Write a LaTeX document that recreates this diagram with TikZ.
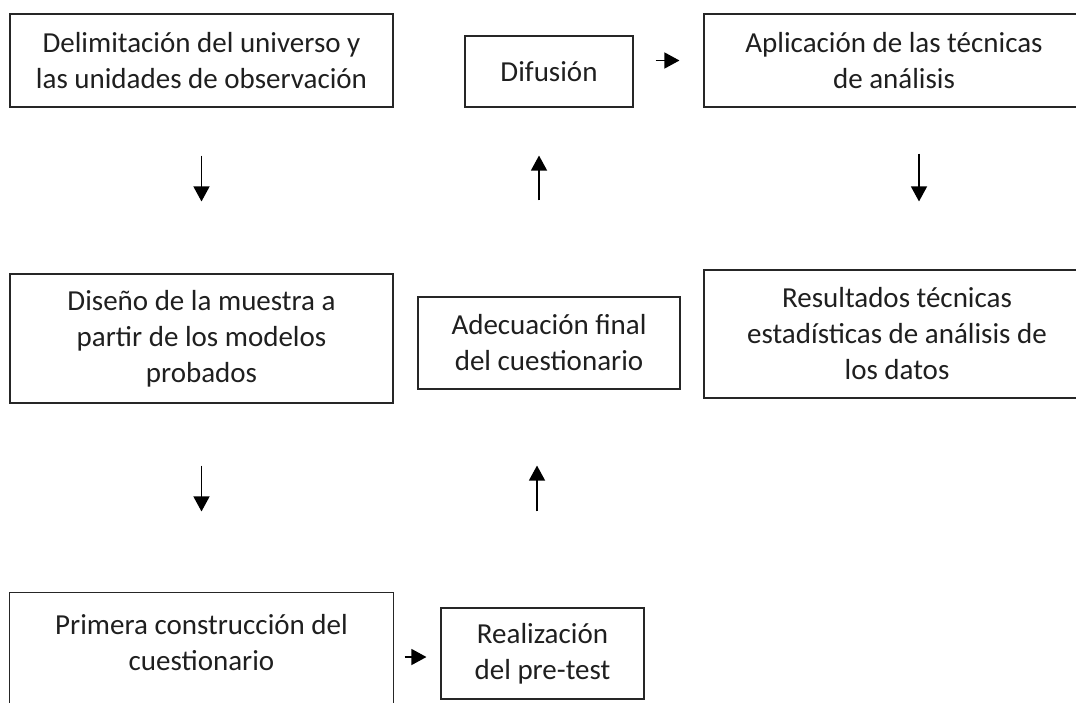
\documentclass[tikz,border=0pt]{standalone}
\usepackage{fontspec}
\setmainfont{Carlito}
\usetikzlibrary{arrows.meta}
\begin{document}
\begin{tikzpicture}[x=1pt,y=-1pt,
  boxline/.style={draw=black!85, line width=1.1pt},
  box/.style={boxline, inner sep=0pt, align=center,
    font=\fontsize{29}{36}\selectfont, text=black!88},
  arr/.style={line width=1.3pt, -{Triangle[width=16pt,length=15pt]}}]
\useasboundingbox (0,0) rectangle (1076,702);
\clip (0,0) rectangle (1076,702);
\node[box, minimum width=383pt, minimum height=93pt] (delim) at (201.5,60.5)
  {Delimitación del universo y\\las unidades de observación};
\node[box, minimum width=168pt, minimum height=71pt] (difu) at (549,71.5)
  {Difusión};
\node[box, minimum width=380pt, minimum height=93pt] (apl) at (894,60.5)
  {Aplicación de las técnicas\\de análisis};
\node[box, minimum width=383pt, minimum height=129pt] (dise) at (201.5,338.5)
  {Diseño de la muestra a\\partir de los modelos\\probados};
\node[box, minimum width=262pt, minimum height=92pt] (adec) at (549,343)
  {Adecuación final\\del cuestionario};
\node[box, minimum width=386pt, minimum height=128pt] (resu) at (897,334)
  {Resultados técnicas\\estadísticas de análisis de\\los datos};
\node[box, draw=none, minimum width=383pt, minimum height=100pt] (prim) at (201.5,643)
  {Primera construcción del\\cuestionario};
\draw[boxline] (prim.north west) rectangle ([yshift=-20pt]prim.south east);
\node[box, minimum width=203pt, minimum height=91pt] (real) at (542.5,653.5)
  {Realización\\del pre-test};
% arrows
\draw[arr, shorten <=48pt, shorten >=72pt] (delim.south) -- (dise.north);
\draw[arr, shorten <=62pt, shorten >=81pt] (dise.south) -- (dise.south |- prim.north);
\draw[arr, shorten <=96pt, shorten >=48pt] ([xshift=-10pt]adec.north) -- ([xshift=-10pt]difu.south);
\draw[arr, shorten <=96pt, shorten >=76pt] ([xshift=-12pt]adec.south |- real.north) -- ([xshift=-12pt]adec.south);
\draw[arr, shorten <=46pt, shorten >=68pt] ([xshift=25pt]apl.south) -- ([xshift=25pt]apl.south |- resu.north);
\draw[arr, shorten <=22pt, shorten >=24pt] (difu.east |- apl.west) -- (apl.west);
\draw[arr, shorten <=11pt, shorten >=14pt] ([yshift=-3.5pt]prim.east |- real.west) -- ([yshift=-3.5pt]real.west);
\end{tikzpicture}
\end{document}
